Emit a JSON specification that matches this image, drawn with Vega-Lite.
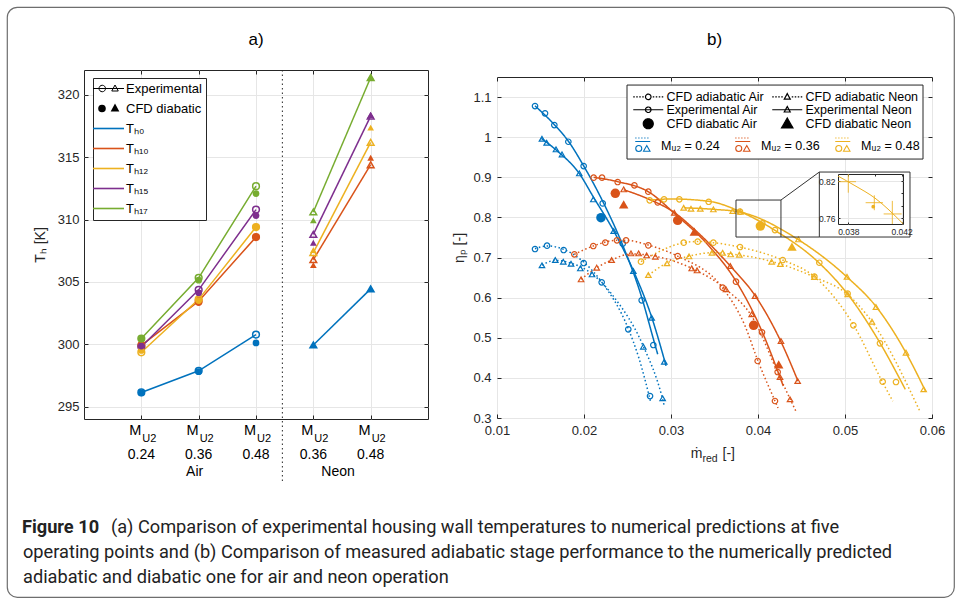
{
"$schema": "https://vega.github.io/schema/vega-lite/v6.json",
"padding": {"left": 6, "top": 6, "right": 0, "bottom": 2},
"background": "white",
"config": {
  "font": "Liberation Sans",
  "view": {"stroke": "#262626", "strokeWidth": 1},
  "axis": {"domain": false, "tickSize": -4, "tickColor": "#262626", "tickWidth": 1, "gridColor": "#e6e6e6", "gridWidth": 1, "labelFont": "Liberation Sans", "labelFontSize": 13, "labelColor": "#262626", "titleFont": "Liberation Sans", "titleFontSize": 14, "titleFontWeight": "normal", "titleColor": "#262626", "labelFlush": false, "labelOverlap": false},
  "axisY": {"labelPadding": 9},
  "axisX": {"labelPadding": 10},
  "legend": {"labelFont": "Liberation Sans", "labelColor": "#000000", "titleFont": "Liberation Sans"},
  "title": {"font": "Liberation Sans", "fontSize": 17, "fontWeight": "normal", "color": "#000000"}
},
"datasets": {
  "aPts": [
    {"pos":1,"T":296.13,"series":"Th0","type":"Experimental","gas":"Air"},
    {"pos":2,"T":297.87,"series":"Th0","type":"Experimental","gas":"Air"},
    {"pos":3,"T":300.77,"series":"Th0","type":"Experimental","gas":"Air"},
    {"pos":1,"T":299.9,"series":"Th10","type":"Experimental","gas":"Air"},
    {"pos":2,"T":303.45,"series":"Th10","type":"Experimental","gas":"Air"},
    {"pos":3,"T":308.6,"series":"Th10","type":"Experimental","gas":"Air"},
    {"pos":1,"T":299.35,"series":"Th12","type":"Experimental","gas":"Air"},
    {"pos":2,"T":303.6,"series":"Th12","type":"Experimental","gas":"Air"},
    {"pos":3,"T":309.4,"series":"Th12","type":"Experimental","gas":"Air"},
    {"pos":1,"T":299.8,"series":"Th15","type":"Experimental","gas":"Air"},
    {"pos":2,"T":304.36,"series":"Th15","type":"Experimental","gas":"Air"},
    {"pos":3,"T":310.8,"series":"Th15","type":"Experimental","gas":"Air"},
    {"pos":1,"T":300.45,"series":"Th17","type":"Experimental","gas":"Air"},
    {"pos":2,"T":305.33,"series":"Th17","type":"Experimental","gas":"Air"},
    {"pos":3,"T":312.68,"series":"Th17","type":"Experimental","gas":"Air"},
    {"pos":4,"T":299.94,"series":"Th0","type":"Experimental","gas":"Neon"},
    {"pos":5,"T":304.44,"series":"Th0","type":"Experimental","gas":"Neon"},
    {"pos":4,"T":306.78,"series":"Th10","type":"Experimental","gas":"Neon"},
    {"pos":5,"T":314.4,"series":"Th10","type":"Experimental","gas":"Neon"},
    {"pos":4,"T":307.35,"series":"Th12","type":"Experimental","gas":"Neon"},
    {"pos":5,"T":316.2,"series":"Th12","type":"Experimental","gas":"Neon"},
    {"pos":4,"T":308.81,"series":"Th15","type":"Experimental","gas":"Neon"},
    {"pos":5,"T":318.3,"series":"Th15","type":"Experimental","gas":"Neon"},
    {"pos":4,"T":310.61,"series":"Th17","type":"Experimental","gas":"Neon"},
    {"pos":5,"T":321.4,"series":"Th17","type":"Experimental","gas":"Neon"},
    {"pos":1,"T":296.1,"series":"Th0","type":"CFD diabatic","gas":"Air"},
    {"pos":2,"T":297.8,"series":"Th0","type":"CFD diabatic","gas":"Air"},
    {"pos":3,"T":300.1,"series":"Th0","type":"CFD diabatic","gas":"Air"},
    {"pos":1,"T":299.96,"series":"Th10","type":"CFD diabatic","gas":"Air"},
    {"pos":2,"T":303.34,"series":"Th10","type":"CFD diabatic","gas":"Air"},
    {"pos":3,"T":308.6,"series":"Th10","type":"CFD diabatic","gas":"Air"},
    {"pos":1,"T":299.5,"series":"Th12","type":"CFD diabatic","gas":"Air"},
    {"pos":2,"T":303.5,"series":"Th12","type":"CFD diabatic","gas":"Air"},
    {"pos":3,"T":309.4,"series":"Th12","type":"CFD diabatic","gas":"Air"},
    {"pos":1,"T":299.85,"series":"Th15","type":"CFD diabatic","gas":"Air"},
    {"pos":2,"T":304.12,"series":"Th15","type":"CFD diabatic","gas":"Air"},
    {"pos":3,"T":310.32,"series":"Th15","type":"CFD diabatic","gas":"Air"},
    {"pos":1,"T":300.4,"series":"Th17","type":"CFD diabatic","gas":"Air"},
    {"pos":2,"T":305.14,"series":"Th17","type":"CFD diabatic","gas":"Air"},
    {"pos":3,"T":312.09,"series":"Th17","type":"CFD diabatic","gas":"Air"},
    {"pos":4,"T":299.94,"series":"Th0","type":"CFD diabatic","gas":"Neon"},
    {"pos":5,"T":304.44,"series":"Th0","type":"CFD diabatic","gas":"Neon"},
    {"pos":4,"T":306.35,"series":"Th10","type":"CFD diabatic","gas":"Neon"},
    {"pos":5,"T":314.96,"series":"Th10","type":"CFD diabatic","gas":"Neon"},
    {"pos":4,"T":307.55,"series":"Th12","type":"CFD diabatic","gas":"Neon"},
    {"pos":5,"T":317.37,"series":"Th12","type":"CFD diabatic","gas":"Neon"},
    {"pos":4,"T":308.14,"series":"Th15","type":"CFD diabatic","gas":"Neon"},
    {"pos":5,"T":318.39,"series":"Th15","type":"CFD diabatic","gas":"Neon"},
    {"pos":4,"T":309.94,"series":"Th17","type":"CFD diabatic","gas":"Neon"},
    {"pos":5,"T":321.42,"series":"Th17","type":"CFD diabatic","gas":"Neon"}
  ],
  "aCats": [
    {"pos":1,"mach":"0.24"},{"pos":2,"mach":"0.36"},{"pos":3,"mach":"0.48"},{"pos":4,"mach":"0.36"},{"pos":5,"mach":"0.48"}
  ],
  "aGroups": [{"pos":2,"gas":"Air"},{"pos":4.5,"gas":"Neon"}],
  "bPts": [
    {"x":0.01437,"y":1.0776,"mach":"0.24","series":"Experimental Air"},
    {"x":0.01552,"y":1.0594,"mach":"0.24","series":"Experimental Air"},
    {"x":0.01659,"y":1.0302,"mach":"0.24","series":"Experimental Air"},
    {"x":0.0182,"y":0.9886,"mach":"0.24","series":"Experimental Air"},
    {"x":0.01996,"y":0.928,"mach":"0.24","series":"Experimental Air"},
    {"x":0.02215,"y":0.835,"mach":"0.24","series":"Experimental Air"},
    {"x":0.02445,"y":0.7344,"mach":"0.24","series":"Experimental Air"},
    {"x":0.02663,"y":0.5933,"mach":"0.24","series":"Experimental Air"},
    {"x":0.02797,"y":0.4819,"mach":"0.24","series":"Experimental Air"},
    {"x":0.01517,"y":0.996,"mach":"0.24","series":"Experimental Neon"},
    {"x":0.01571,"y":0.986,"mach":"0.24","series":"Experimental Neon"},
    {"x":0.01678,"y":0.9696,"mach":"0.24","series":"Experimental Neon"},
    {"x":0.01747,"y":0.957,"mach":"0.24","series":"Experimental Neon"},
    {"x":0.01946,"y":0.9098,"mach":"0.24","series":"Experimental Neon"},
    {"x":0.02107,"y":0.845,"mach":"0.24","series":"Experimental Neon"},
    {"x":0.02341,"y":0.766,"mach":"0.24","series":"Experimental Neon"},
    {"x":0.02567,"y":0.6664,"mach":"0.24","series":"Experimental Neon"},
    {"x":0.02778,"y":0.55,"mach":"0.24","series":"Experimental Neon"},
    {"x":0.02923,"y":0.4403,"mach":"0.24","series":"Experimental Neon"},
    {"x":0.01437,"y":0.7212,"mach":"0.24","series":"CFD adiabatic Air"},
    {"x":0.01575,"y":0.7295,"mach":"0.24","series":"CFD adiabatic Air"},
    {"x":0.01766,"y":0.7187,"mach":"0.24","series":"CFD adiabatic Air"},
    {"x":0.01996,"y":0.6863,"mach":"0.24","series":"CFD adiabatic Air"},
    {"x":0.02203,"y":0.6382,"mach":"0.24","series":"CFD adiabatic Air"},
    {"x":0.02509,"y":0.521,"mach":"0.24","series":"CFD adiabatic Air"},
    {"x":0.02759,"y":0.3548,"mach":"0.24","series":"CFD adiabatic Air"},
    {"x":0.01517,"y":0.6805,"mach":"0.24","series":"CFD adiabatic Neon"},
    {"x":0.0167,"y":0.6938,"mach":"0.24","series":"CFD adiabatic Neon"},
    {"x":0.01762,"y":0.6896,"mach":"0.24","series":"CFD adiabatic Neon"},
    {"x":0.01851,"y":0.6846,"mach":"0.24","series":"CFD adiabatic Neon"},
    {"x":0.01958,"y":0.673,"mach":"0.24","series":"CFD adiabatic Neon"},
    {"x":0.02092,"y":0.658,"mach":"0.24","series":"CFD adiabatic Neon"},
    {"x":0.02682,"y":0.4778,"mach":"0.24","series":"CFD adiabatic Neon"},
    {"x":0.02904,"y":0.349,"mach":"0.24","series":"CFD adiabatic Neon"},
    {"x":0.02195,"y":0.7993,"mach":"0.24","series":"CFD diabatic Air"},
    {"x":0.02111,"y":0.899,"mach":"0.36","series":"Experimental Air"},
    {"x":0.02207,"y":0.899,"mach":"0.36","series":"Experimental Air"},
    {"x":0.02387,"y":0.8882,"mach":"0.36","series":"Experimental Air"},
    {"x":0.02579,"y":0.8799,"mach":"0.36","series":"Experimental Air"},
    {"x":0.02739,"y":0.8641,"mach":"0.36","series":"Experimental Air"},
    {"x":0.02847,"y":0.8375,"mach":"0.36","series":"Experimental Air"},
    {"x":0.03747,"y":0.6398,"mach":"0.36","series":"Experimental Air"},
    {"x":0.04046,"y":0.5135,"mach":"0.36","series":"Experimental Air"},
    {"x":0.04226,"y":0.4146,"mach":"0.36","series":"Experimental Air"},
    {"x":0.02456,"y":0.8699,"mach":"0.36","series":"Experimental Neon"},
    {"x":0.03038,"y":0.8117,"mach":"0.36","series":"Experimental Neon"},
    {"x":0.03682,"y":0.6788,"mach":"0.36","series":"Experimental Neon"},
    {"x":0.03966,"y":0.604,"mach":"0.36","series":"Experimental Neon"},
    {"x":0.04264,"y":0.4919,"mach":"0.36","series":"Experimental Neon"},
    {"x":0.04456,"y":0.3922,"mach":"0.36","series":"Experimental Neon"},
    {"x":0.01889,"y":0.7079,"mach":"0.36","series":"CFD adiabatic Air"},
    {"x":0.02107,"y":0.7287,"mach":"0.36","series":"CFD adiabatic Air"},
    {"x":0.02245,"y":0.737,"mach":"0.36","series":"CFD adiabatic Air"},
    {"x":0.02379,"y":0.7428,"mach":"0.36","series":"CFD adiabatic Air"},
    {"x":0.02483,"y":0.7428,"mach":"0.36","series":"CFD adiabatic Air"},
    {"x":0.02739,"y":0.7303,"mach":"0.36","series":"CFD adiabatic Air"},
    {"x":0.03077,"y":0.7037,"mach":"0.36","series":"CFD adiabatic Air"},
    {"x":0.03594,"y":0.6248,"mach":"0.36","series":"CFD adiabatic Air"},
    {"x":0.03996,"y":0.4421,"mach":"0.36","series":"CFD adiabatic Air"},
    {"x":0.04195,"y":0.3424,"mach":"0.36","series":"CFD adiabatic Air"},
    {"x":0.01966,"y":0.6456,"mach":"0.36","series":"CFD adiabatic Neon"},
    {"x":0.02146,"y":0.6747,"mach":"0.36","series":"CFD adiabatic Neon"},
    {"x":0.02318,"y":0.6938,"mach":"0.36","series":"CFD adiabatic Neon"},
    {"x":0.0254,"y":0.7104,"mach":"0.36","series":"CFD adiabatic Neon"},
    {"x":0.02628,"y":0.7104,"mach":"0.36","series":"CFD adiabatic Neon"},
    {"x":0.0272,"y":0.7054,"mach":"0.36","series":"CFD adiabatic Neon"},
    {"x":0.0282,"y":0.7021,"mach":"0.36","series":"CFD adiabatic Neon"},
    {"x":0.03238,"y":0.673,"mach":"0.36","series":"CFD adiabatic Neon"},
    {"x":0.03299,"y":0.668,"mach":"0.36","series":"CFD adiabatic Neon"},
    {"x":0.03632,"y":0.6207,"mach":"0.36","series":"CFD adiabatic Neon"},
    {"x":0.03927,"y":0.5584,"mach":"0.36","series":"CFD adiabatic Neon"},
    {"x":0.04253,"y":0.4022,"mach":"0.36","series":"CFD adiabatic Neon"},
    {"x":0.04368,"y":0.3465,"mach":"0.36","series":"CFD adiabatic Neon"},
    {"x":0.0236,"y":0.86,"mach":"0.36","series":"CFD diabatic Air"},
    {"x":0.03077,"y":0.7926,"mach":"0.36","series":"CFD diabatic Air"},
    {"x":0.0395,"y":0.531,"mach":"0.36","series":"CFD diabatic Air"},
    {"x":0.02456,"y":0.8325,"mach":"0.36","series":"CFD diabatic Neon"},
    {"x":0.03268,"y":0.7644,"mach":"0.36","series":"CFD diabatic Neon"},
    {"x":0.04238,"y":0.4338,"mach":"0.36","series":"CFD diabatic Neon"},
    {"x":0.02755,"y":0.8425,"mach":"0.48","series":"Experimental Air"},
    {"x":0.0292,"y":0.845,"mach":"0.48","series":"Experimental Air"},
    {"x":0.03096,"y":0.845,"mach":"0.48","series":"Experimental Air"},
    {"x":0.03433,"y":0.839,"mach":"0.48","series":"Experimental Air"},
    {"x":0.03793,"y":0.8144,"mach":"0.48","series":"Experimental Air"},
    {"x":0.0405,"y":0.785,"mach":"0.48","series":"Experimental Air"},
    {"x":0.04195,"y":0.7685,"mach":"0.48","series":"Experimental Air"},
    {"x":0.04705,"y":0.687,"mach":"0.48","series":"Experimental Air"},
    {"x":0.0503,"y":0.61,"mach":"0.48","series":"Experimental Air"},
    {"x":0.05402,"y":0.4861,"mach":"0.48","series":"Experimental Air"},
    {"x":0.05586,"y":0.3897,"mach":"0.48","series":"Experimental Air"},
    {"x":0.03146,"y":0.8242,"mach":"0.48","series":"Experimental Neon"},
    {"x":0.0323,"y":0.8217,"mach":"0.48","series":"Experimental Neon"},
    {"x":0.03337,"y":0.8217,"mach":"0.48","series":"Experimental Neon"},
    {"x":0.03487,"y":0.82,"mach":"0.48","series":"Experimental Neon"},
    {"x":0.03709,"y":0.8159,"mach":"0.48","series":"Experimental Neon"},
    {"x":0.03797,"y":0.8142,"mach":"0.48","series":"Experimental Neon"},
    {"x":0.04464,"y":0.7453,"mach":"0.48","series":"Experimental Neon"},
    {"x":0.05023,"y":0.6522,"mach":"0.48","series":"Experimental Neon"},
    {"x":0.05356,"y":0.5766,"mach":"0.48","series":"Experimental Neon"},
    {"x":0.05701,"y":0.4628,"mach":"0.48","series":"Experimental Neon"},
    {"x":0.05904,"y":0.3715,"mach":"0.48","series":"Experimental Neon"},
    {"x":0.02655,"y":0.6896,"mach":"0.48","series":"CFD adiabatic Air"},
    {"x":0.03146,"y":0.737,"mach":"0.48","series":"CFD adiabatic Air"},
    {"x":0.03307,"y":0.7395,"mach":"0.48","series":"CFD adiabatic Air"},
    {"x":0.03487,"y":0.737,"mach":"0.48","series":"CFD adiabatic Air"},
    {"x":0.03793,"y":0.7262,"mach":"0.48","series":"CFD adiabatic Air"},
    {"x":0.04284,"y":0.6938,"mach":"0.48","series":"CFD adiabatic Air"},
    {"x":0.04648,"y":0.6522,"mach":"0.48","series":"CFD adiabatic Air"},
    {"x":0.05096,"y":0.531,"mach":"0.48","series":"CFD adiabatic Air"},
    {"x":0.05433,"y":0.3905,"mach":"0.48","series":"CFD adiabatic Air"},
    {"x":0.0274,"y":0.6564,"mach":"0.48","series":"CFD adiabatic Neon"},
    {"x":0.02954,"y":0.6855,"mach":"0.48","series":"CFD adiabatic Neon"},
    {"x":0.03207,"y":0.7029,"mach":"0.48","series":"CFD adiabatic Neon"},
    {"x":0.03471,"y":0.712,"mach":"0.48","series":"CFD adiabatic Neon"},
    {"x":0.03594,"y":0.712,"mach":"0.48","series":"CFD adiabatic Neon"},
    {"x":0.03686,"y":0.7079,"mach":"0.48","series":"CFD adiabatic Neon"},
    {"x":0.03785,"y":0.7071,"mach":"0.48","series":"CFD adiabatic Neon"},
    {"x":0.04157,"y":0.6896,"mach":"0.48","series":"CFD adiabatic Neon"},
    {"x":0.04257,"y":0.6838,"mach":"0.48","series":"CFD adiabatic Neon"},
    {"x":0.04648,"y":0.6514,"mach":"0.48","series":"CFD adiabatic Neon"},
    {"x":0.05031,"y":0.6082,"mach":"0.48","series":"CFD adiabatic Neon"},
    {"x":0.0531,"y":0.5401,"mach":"0.48","series":"CFD adiabatic Neon"},
    {"x":0.04027,"y":0.7785,"mach":"0.48","series":"CFD diabatic Air"},
    {"x":0.0439,"y":0.727,"mach":"0.48","series":"CFD diabatic Neon"}
  ],
  "bLines": [
    {"x":0.01437,"y":1.078,"mach":"0.24","series":"Experimental Air"},
    {"x":0.0166,"y":1.031,"mach":"0.24","series":"Experimental Air"},
    {"x":0.0182,"y":0.99,"mach":"0.24","series":"Experimental Air"},
    {"x":0.02,"y":0.927,"mach":"0.24","series":"Experimental Air"},
    {"x":0.0222,"y":0.838,"mach":"0.24","series":"Experimental Air"},
    {"x":0.0245,"y":0.728,"mach":"0.24","series":"Experimental Air"},
    {"x":0.0266,"y":0.603,"mach":"0.24","series":"Experimental Air"},
    {"x":0.028,"y":0.495,"mach":"0.24","series":"Experimental Air"},
    {"x":0.02847,"y":0.459,"mach":"0.24","series":"Experimental Air"},
    {"x":0.0151,"y":0.997,"mach":"0.24","series":"Experimental Neon"},
    {"x":0.0168,"y":0.968,"mach":"0.24","series":"Experimental Neon"},
    {"x":0.0195,"y":0.908,"mach":"0.24","series":"Experimental Neon"},
    {"x":0.0211,"y":0.85,"mach":"0.24","series":"Experimental Neon"},
    {"x":0.0234,"y":0.767,"mach":"0.24","series":"Experimental Neon"},
    {"x":0.0257,"y":0.666,"mach":"0.24","series":"Experimental Neon"},
    {"x":0.0278,"y":0.55,"mach":"0.24","series":"Experimental Neon"},
    {"x":0.02943,"y":0.43,"mach":"0.24","series":"Experimental Neon"},
    {"x":0.01437,"y":0.722,"mach":"0.24","series":"CFD adiabatic Air"},
    {"x":0.0158,"y":0.729,"mach":"0.24","series":"CFD adiabatic Air"},
    {"x":0.0177,"y":0.72,"mach":"0.24","series":"CFD adiabatic Air"},
    {"x":0.02,"y":0.688,"mach":"0.24","series":"CFD adiabatic Air"},
    {"x":0.022,"y":0.64,"mach":"0.24","series":"CFD adiabatic Air"},
    {"x":0.0251,"y":0.522,"mach":"0.24","series":"CFD adiabatic Air"},
    {"x":0.0263,"y":0.45,"mach":"0.24","series":"CFD adiabatic Air"},
    {"x":0.0277,"y":0.337,"mach":"0.24","series":"CFD adiabatic Air"},
    {"x":0.01517,"y":0.681,"mach":"0.24","series":"CFD adiabatic Neon"},
    {"x":0.0167,"y":0.693,"mach":"0.24","series":"CFD adiabatic Neon"},
    {"x":0.0185,"y":0.686,"mach":"0.24","series":"CFD adiabatic Neon"},
    {"x":0.0209,"y":0.66,"mach":"0.24","series":"CFD adiabatic Neon"},
    {"x":0.0235,"y":0.6,"mach":"0.24","series":"CFD adiabatic Neon"},
    {"x":0.0268,"y":0.48,"mach":"0.24","series":"CFD adiabatic Neon"},
    {"x":0.029,"y":0.35,"mach":"0.24","series":"CFD adiabatic Neon"},
    {"x":0.02923,"y":0.33,"mach":"0.24","series":"CFD adiabatic Neon"},
    {"x":0.02111,"y":0.9,"mach":"0.36","series":"Experimental Air"},
    {"x":0.0239,"y":0.889,"mach":"0.36","series":"Experimental Air"},
    {"x":0.0274,"y":0.864,"mach":"0.36","series":"Experimental Air"},
    {"x":0.0306,"y":0.806,"mach":"0.36","series":"Experimental Air"},
    {"x":0.0341,"y":0.735,"mach":"0.36","series":"Experimental Air"},
    {"x":0.0375,"y":0.64,"mach":"0.36","series":"Experimental Air"},
    {"x":0.0405,"y":0.514,"mach":"0.36","series":"Experimental Air"},
    {"x":0.0423,"y":0.415,"mach":"0.36","series":"Experimental Air"},
    {"x":0.0429,"y":0.38,"mach":"0.36","series":"Experimental Air"},
    {"x":0.02456,"y":0.869,"mach":"0.36","series":"Experimental Neon"},
    {"x":0.0275,"y":0.845,"mach":"0.36","series":"Experimental Neon"},
    {"x":0.0304,"y":0.812,"mach":"0.36","series":"Experimental Neon"},
    {"x":0.0327,"y":0.77,"mach":"0.36","series":"Experimental Neon"},
    {"x":0.0368,"y":0.679,"mach":"0.36","series":"Experimental Neon"},
    {"x":0.0397,"y":0.604,"mach":"0.36","series":"Experimental Neon"},
    {"x":0.0426,"y":0.492,"mach":"0.36","series":"Experimental Neon"},
    {"x":0.0446,"y":0.392,"mach":"0.36","series":"Experimental Neon"},
    {"x":0.01889,"y":0.708,"mach":"0.36","series":"CFD adiabatic Air"},
    {"x":0.0211,"y":0.729,"mach":"0.36","series":"CFD adiabatic Air"},
    {"x":0.0238,"y":0.743,"mach":"0.36","series":"CFD adiabatic Air"},
    {"x":0.0248,"y":0.743,"mach":"0.36","series":"CFD adiabatic Air"},
    {"x":0.0274,"y":0.731,"mach":"0.36","series":"CFD adiabatic Air"},
    {"x":0.0308,"y":0.703,"mach":"0.36","series":"CFD adiabatic Air"},
    {"x":0.0359,"y":0.625,"mach":"0.36","series":"CFD adiabatic Air"},
    {"x":0.0385,"y":0.53,"mach":"0.36","series":"CFD adiabatic Air"},
    {"x":0.04,"y":0.442,"mach":"0.36","series":"CFD adiabatic Air"},
    {"x":0.042,"y":0.34,"mach":"0.36","series":"CFD adiabatic Air"},
    {"x":0.0423,"y":0.325,"mach":"0.36","series":"CFD adiabatic Air"},
    {"x":0.01966,"y":0.646,"mach":"0.36","series":"CFD adiabatic Neon"},
    {"x":0.0215,"y":0.675,"mach":"0.36","series":"CFD adiabatic Neon"},
    {"x":0.0232,"y":0.694,"mach":"0.36","series":"CFD adiabatic Neon"},
    {"x":0.0254,"y":0.709,"mach":"0.36","series":"CFD adiabatic Neon"},
    {"x":0.0282,"y":0.703,"mach":"0.36","series":"CFD adiabatic Neon"},
    {"x":0.0324,"y":0.673,"mach":"0.36","series":"CFD adiabatic Neon"},
    {"x":0.0363,"y":0.621,"mach":"0.36","series":"CFD adiabatic Neon"},
    {"x":0.0393,"y":0.553,"mach":"0.36","series":"CFD adiabatic Neon"},
    {"x":0.0425,"y":0.402,"mach":"0.36","series":"CFD adiabatic Neon"},
    {"x":0.0437,"y":0.347,"mach":"0.36","series":"CFD adiabatic Neon"},
    {"x":0.0444,"y":0.315,"mach":"0.36","series":"CFD adiabatic Neon"},
    {"x":0.02755,"y":0.843,"mach":"0.48","series":"Experimental Air"},
    {"x":0.03,"y":0.846,"mach":"0.48","series":"Experimental Air"},
    {"x":0.0344,"y":0.84,"mach":"0.48","series":"Experimental Air"},
    {"x":0.038,"y":0.814,"mach":"0.48","series":"Experimental Air"},
    {"x":0.042,"y":0.767,"mach":"0.48","series":"Experimental Air"},
    {"x":0.047,"y":0.687,"mach":"0.48","series":"Experimental Air"},
    {"x":0.0503,"y":0.609,"mach":"0.48","series":"Experimental Air"},
    {"x":0.054,"y":0.488,"mach":"0.48","series":"Experimental Air"},
    {"x":0.05693,"y":0.3715,"mach":"0.48","series":"Experimental Air"},
    {"x":0.03146,"y":0.824,"mach":"0.48","series":"Experimental Neon"},
    {"x":0.035,"y":0.82,"mach":"0.48","series":"Experimental Neon"},
    {"x":0.038,"y":0.813,"mach":"0.48","series":"Experimental Neon"},
    {"x":0.0446,"y":0.745,"mach":"0.48","series":"Experimental Neon"},
    {"x":0.0502,"y":0.652,"mach":"0.48","series":"Experimental Neon"},
    {"x":0.0536,"y":0.577,"mach":"0.48","series":"Experimental Neon"},
    {"x":0.057,"y":0.463,"mach":"0.48","series":"Experimental Neon"},
    {"x":0.0593,"y":0.365,"mach":"0.48","series":"Experimental Neon"},
    {"x":0.02655,"y":0.69,"mach":"0.48","series":"CFD adiabatic Air"},
    {"x":0.0315,"y":0.737,"mach":"0.48","series":"CFD adiabatic Air"},
    {"x":0.0331,"y":0.74,"mach":"0.48","series":"CFD adiabatic Air"},
    {"x":0.0349,"y":0.737,"mach":"0.48","series":"CFD adiabatic Air"},
    {"x":0.0379,"y":0.726,"mach":"0.48","series":"CFD adiabatic Air"},
    {"x":0.0428,"y":0.694,"mach":"0.48","series":"CFD adiabatic Air"},
    {"x":0.0465,"y":0.652,"mach":"0.48","series":"CFD adiabatic Air"},
    {"x":0.051,"y":0.531,"mach":"0.48","series":"CFD adiabatic Air"},
    {"x":0.0543,"y":0.39,"mach":"0.48","series":"CFD adiabatic Air"},
    {"x":0.0555,"y":0.342,"mach":"0.48","series":"CFD adiabatic Air"},
    {"x":0.0274,"y":0.656,"mach":"0.48","series":"CFD adiabatic Neon"},
    {"x":0.0295,"y":0.686,"mach":"0.48","series":"CFD adiabatic Neon"},
    {"x":0.032,"y":0.703,"mach":"0.48","series":"CFD adiabatic Neon"},
    {"x":0.0347,"y":0.712,"mach":"0.48","series":"CFD adiabatic Neon"},
    {"x":0.0368,"y":0.709,"mach":"0.48","series":"CFD adiabatic Neon"},
    {"x":0.0416,"y":0.69,"mach":"0.48","series":"CFD adiabatic Neon"},
    {"x":0.0465,"y":0.651,"mach":"0.48","series":"CFD adiabatic Neon"},
    {"x":0.0503,"y":0.608,"mach":"0.48","series":"CFD adiabatic Neon"},
    {"x":0.0531,"y":0.54,"mach":"0.48","series":"CFD adiabatic Neon"},
    {"x":0.0586,"y":0.317,"mach":"0.48","series":"CFD adiabatic Neon"}
  ],
  "inset": [
    {"x":0.038,"y":0.8189,"xlo":0.03725,"xhi":0.03858,"ylo":0.8012,"yhi":0.8308},
    {"x":0.03995,"y":0.7851,"xlo":0.0393,"xhi":0.0406,"ylo":0.773,"yhi":0.797},
    {"x":0.0413,"y":0.767,"xlo":0.04065,"xhi":0.042,"ylo":0.7508,"yhi":0.788}
  ],
  "insetLine": [
    {"x":0.03723,"y":0.828},{"x":0.0385,"y":0.8125},{"x":0.04,"y":0.7925},{"x":0.0421,"y":0.7513}
  ],
  "insetDot": [{"x":0.03987,"y":0.7787}],
  "caption": [
    {"line":1,"seg":"bold","text":"Figure 10"},
    {"line":1,"seg":"first","text":"(a) Comparison of experimental housing wall temperatures to numerical predictions at five"},
    {"line":2,"seg":"rest","text":"operating points and (b) Comparison of measured adiabatic stage performance to the numerically predicted"},
    {"line":3,"seg":"rest","text":"adiabatic and diabatic one for air and neon operation"}
  ]
},
"spacing": -870,
"bounds": "flush",
"align": "none",
"resolve": {"scale": {"color": "independent", "shape": "independent", "fill": "independent", "strokeDash": "independent"}},
"hconcat": [
  {
    "width": 947, "height": 590,
    "view": {"stroke": "#6e6e6e", "strokeWidth": 1.2, "cornerRadius": 10},
    "data": {"name": "caption"},
    "layer": [
      {"transform": [{"filter": "datum.seg === 'bold'"}],
       "mark": {"type": "text", "align": "left", "baseline": "middle", "dx": 15, "fontWeight": "bold", "font": "Roboto", "fontSize": 18.2, "color": "#222222"},
       "encoding": {"x": {"datum": 0, "type": "quantitative", "scale": {"domain": [0, 1]}, "axis": null},
                    "y": {"field": "line", "type": "ordinal", "scale": {"type": "point", "domain": [1, 2, 3], "range": [521, 571], "padding": 0}, "axis": null},
                    "text": {"field": "text"}}},
      {"transform": [{"filter": "datum.seg === 'first'"}],
       "mark": {"type": "text", "align": "left", "baseline": "middle", "dx": 104, "font": "Roboto", "fontSize": 18.2, "color": "#222222"},
       "encoding": {"x": {"datum": 0, "type": "quantitative", "scale": {"domain": [0, 1]}, "axis": null},
                    "y": {"field": "line", "type": "ordinal", "scale": {"type": "point", "domain": [1, 2, 3], "range": [521, 571], "padding": 0}, "axis": null},
                    "text": {"field": "text"}}},
      {"transform": [{"filter": "datum.seg === 'rest'"}],
       "mark": {"type": "text", "align": "left", "baseline": "middle", "dx": 16, "font": "Roboto", "fontSize": 18.2, "color": "#222222"},
       "encoding": {"x": {"datum": 0, "type": "quantitative", "scale": {"domain": [0, 1]}, "axis": null},
                    "y": {"field": "line", "type": "ordinal", "scale": {"type": "point", "domain": [1, 2, 3], "range": [521, 571], "padding": 0}, "axis": null},
                    "text": {"field": "text"}}}
    ]
  },
  {
    "spacing": 0,
    "bounds": "flush",
    "align": "none",
    "resolve": {"scale": {"color": "independent", "shape": "independent", "fill": "independent", "strokeDash": "independent"}},
    "vconcat": [
      {"width": 1, "height": 63, "data": {"values": [{}]}, "mark": {"type": "point", "opacity": 0}, "view": {"stroke": null}},
      {
        "spacing": 69,
        "bounds": "flush",
        "align": "none",
        "resolve": {"scale": {"color": "independent", "shape": "independent", "fill": "independent", "strokeDash": "independent"}},
        "hconcat": [
          {
            "width": 344, "height": 349,
            "title": {"text": "a)", "offset": 21},
            "layer": [
              {"layer": [
                {"data": {"name": "aPts"}, "transform": [{"filter": "datum.type === 'Experimental'"}],
                 "mark": {"type": "line", "strokeWidth": 1.5},
                 "encoding": {
                   "x": {"field": "pos", "type": "quantitative", "scale": {"domain": [0, 6], "nice": false, "padding": 0}, "axis": {"values": [1, 2, 3, 4, 5], "labels": false, "title": null}},
                   "y": {"field": "T", "type": "quantitative", "scale": {"domain": [294, 322], "nice": false, "zero": false, "padding": 0}, "axis": {"values": [295, 300, 305, 310, 315, 320], "title": "Tₕ [K]", "titlePadding": 10}},
                   "color": {"field": "series", "type": "nominal",
                     "scale": {"domain": ["Experimental", "CFD diabatic", "Th0", "Th10", "Th12", "Th15", "Th17"], "range": ["#000000", "#000000", "#0072BD", "#D95319", "#EDB120", "#7E2F8E", "#77AC30"]},
                     "legend": {"orient": "none", "legendX": 9, "legendY": 8, "title": null, "padding": 4, "strokeColor": "#262626", "fillColor": "#ffffff",
                       "symbolSize": 100, "symbolOffset": 5, "labelOffset": 11, "rowPadding": 6, "labelFontSize": 13,
                       "labelExpr": "datum.value === 'Th0' ? 'Tₕ₀' : datum.value === 'Th10' ? 'Tₕ₁₀' : datum.value === 'Th12' ? 'Tₕ₁₂' : datum.value === 'Th15' ? 'Tₕ₁₅' : datum.value === 'Th17' ? 'Tₕ₁₇' : datum.label",
                       "encode": {"symbols": {"update": {
                         "shape": {"signal": "datum.value === 'Experimental' ? 'M-3.1,0L3.1,0M-0.6,0A0.65,0.65,0,1,1,-1.9,0A0.65,0.65,0,1,1,-0.6,0M1.3,-0.7L1.95,0.5L0.65,0.5Z' : datum.value === 'CFD diabatic' ? 'M-0.7,0A0.6,0.6,0,1,1,-1.9,0A0.6,0.6,0,1,1,-0.7,0ZM1.3,-0.65L1.9,0.45L0.7,0.45Z' : 'M-3.1,0L3.1,0'"},
                         "fill": {"signal": "datum.value === 'CFD diabatic' ? '#000000' : 'transparent'"},
                         "strokeWidth": {"signal": "datum.value === 'Experimental' ? 1 : 1.6"},
                         "size": {"value": 100},
                         "opacity": {"value": 1}}}}}},
                   "detail": {"field": "gas"}}},
                {"data": {"name": "aPts"}, "transform": [{"filter": "datum.type === 'Experimental'"}],
                 "mark": {"type": "point", "filled": false, "strokeWidth": 1.5, "size": 45, "opacity": 1},
                 "encoding": {
                   "x": {"field": "pos", "type": "quantitative"},
                   "y": {"field": "T", "type": "quantitative"},
                   "color": {"field": "series", "type": "nominal",
                     "legend": {"orient": "none", "legendX": 9, "legendY": 8, "title": null, "padding": 4, "strokeColor": "#262626", "fillColor": "#ffffff",
                       "symbolSize": 100, "symbolOffset": 5, "labelOffset": 11, "rowPadding": 6, "labelFontSize": 13,
                       "labelExpr": "datum.value === 'Th0' ? 'Tₕ₀' : datum.value === 'Th10' ? 'Tₕ₁₀' : datum.value === 'Th12' ? 'Tₕ₁₂' : datum.value === 'Th15' ? 'Tₕ₁₅' : datum.value === 'Th17' ? 'Tₕ₁₇' : datum.label",
                       "encode": {"symbols": {"update": {
                         "shape": {"signal": "datum.value === 'Experimental' ? 'M-3.1,0L3.1,0M-0.6,0A0.65,0.65,0,1,1,-1.9,0A0.65,0.65,0,1,1,-0.6,0M1.3,-0.7L1.95,0.5L0.65,0.5Z' : datum.value === 'CFD diabatic' ? 'M-0.7,0A0.6,0.6,0,1,1,-1.9,0A0.6,0.6,0,1,1,-0.7,0ZM1.3,-0.65L1.9,0.45L0.7,0.45Z' : 'M-3.1,0L3.1,0'"},
                         "fill": {"signal": "datum.value === 'CFD diabatic' ? '#000000' : 'transparent'"},
                         "strokeWidth": {"signal": "datum.value === 'Experimental' ? 1 : 1.6"},
                         "size": {"value": 100},
                         "opacity": {"value": 1}}}}}},
                   "shape": {"field": "gas", "type": "nominal", "scale": {"domain": ["Air", "Neon"], "range": ["circle", "triangle-up"]}, "legend": null}}},
                {"data": {"name": "aPts"}, "transform": [{"filter": "datum.type === 'CFD diabatic'"}],
                 "mark": {"type": "point", "filled": true, "size": 45, "opacity": 1},
                 "encoding": {
                   "x": {"field": "pos", "type": "quantitative"},
                   "y": {"field": "T", "type": "quantitative"},
                   "fill": {"field": "series", "type": "nominal", "scale": {"domain": ["Th17", "Th15", "Th12", "Th10", "Th0"], "range": ["#77AC30", "#7E2F8E", "#EDB120", "#D95319", "#0072BD"]}, "legend": null},
                   "shape": {"field": "gas", "type": "nominal", "legend": null}}},
                {"data": {"values": [{}]},
                 "mark": {"type": "rule", "strokeDash": [1.5, 3], "color": "#262626", "strokeWidth": 1},
                 "encoding": {"x": {"datum": 3.46, "type": "quantitative"}, "y": {"datum": 322, "type": "quantitative"}, "y2": {"datum": 289}}},
                {"data": {"name": "aCats"},
                 "mark": {"type": "text", "text": "M", "align": "right", "baseline": "alphabetic", "dy": 16, "fontSize": 14.5, "color": "#000000"},
                 "encoding": {"x": {"field": "pos", "type": "quantitative"}, "y": {"datum": 294, "type": "quantitative"}}},
                {"data": {"name": "aCats"},
                 "mark": {"type": "text", "text": "U2", "align": "left", "baseline": "alphabetic", "dx": 1, "dy": 23, "fontSize": 11, "color": "#000000"},
                 "encoding": {"x": {"field": "pos", "type": "quantitative"}, "y": {"datum": 294, "type": "quantitative"}}},
                {"data": {"name": "aCats"},
                 "mark": {"type": "text", "align": "center", "baseline": "alphabetic", "dy": 40, "fontSize": 14, "color": "#000000"},
                 "encoding": {"x": {"field": "pos", "type": "quantitative"}, "y": {"datum": 294, "type": "quantitative"}, "text": {"field": "mach"}}},
                {"data": {"name": "aGroups"},
                 "mark": {"type": "text", "align": "center", "baseline": "alphabetic", "dx": -4, "dy": 57, "fontSize": 14, "color": "#000000"},
                 "encoding": {"x": {"field": "pos", "type": "quantitative"}, "y": {"datum": 294, "type": "quantitative"}, "text": {"field": "gas"}}}
              ]},
              {"data": {"values": [{}]}, "mark": {"type": "point", "opacity": 0},
               "encoding": {
                 "x": {"datum": 1, "type": "quantitative", "axis": {"orient": "top", "labels": false, "grid": false, "values": [1, 2, 3, 4, 5], "title": null}},
                 "y": {"datum": 300, "type": "quantitative", "axis": {"orient": "right", "labels": false, "grid": false, "values": [295, 300, 305, 310, 315, 320], "title": null}}}}
            ],
            "resolve": {"axis": {"x": "independent", "y": "independent"}}
          },
          {
            "spacing": 341,
            "bounds": "flush",
            "align": "none",
            "hconcat": [
              {
                "spacing": 0,
                "bounds": "flush",
                "align": "none",
                "vconcat": [
                  {"width": 1, "height": 7, "data": {"values": [{}]}, "mark": {"type": "point", "opacity": 0}, "view": {"stroke": null}},
                  {
                    "width": 435, "height": 341,
                    "title": {"text": "b)", "offset": 28},
                    "layer": [
                      {"layer": [
                        {"data": {"name": "bLines"}, "transform": [{"filter": "indexof(datum.series, 'Experimental') >= 0"}],
                         "mark": {"type": "line", "strokeWidth": 1.5, "interpolate": "monotone"},
                         "encoding": {
                           "x": {"field": "x", "type": "quantitative", "scale": {"domain": [0.01, 0.06], "nice": false, "zero": false, "padding": 0}, "axis": {"values": [0.01, 0.02, 0.03, 0.04, 0.05, 0.06], "format": "~g", "title": null, "labelPadding": 10}},
                           "y": {"field": "y", "type": "quantitative", "scale": {"domain": [0.3, 1.15], "nice": false, "zero": false, "padding": 0}, "axis": {"values": [0.3, 0.4, 0.5, 0.6, 0.7, 0.8, 0.9, 1, 1.1], "format": "~g", "title": "ηₚ [-]", "labelPadding": 10, "titlePadding": 6}},
                           "color": {"field": "mach", "type": "nominal", "scale": {"domain": ["0.24", "0.36", "0.48"], "range": ["#0072BD", "#D95319", "#EDB120"]},
                             "legend": {"orient": "none", "legendX": 138, "legendY": 69, "title": null, "columns": 3, "padding": 0, "symbolSize": 100, "symbolOffset": 1.5, "labelOffset": 12, "columnPadding": 13, "labelFontSize": 12.5, "zindex": 2,
                               "labelExpr": "'Mᵤ₂ = ' + datum.label",
                               "encode": {"symbols": {"update": {
                                 "shape": {"value": "M-1.5,-1.5h0.25M-0.9,-1.5h0.25M-0.3,-1.5h0.25M0.3,-1.5h0.25M0.9,-1.5h0.25M-1.5,-0.8L1.5,-0.8M-0.2,0.6A0.6,0.6,0,1,1,-1.4,0.6A0.6,0.6,0,1,1,-0.2,0.6M0.8,0L1.45,1.15L0.15,1.15Z"},
                                 "fill": {"value": "transparent"},
                                 "strokeWidth": {"value": 1.1},
                                 "size": {"value": 100},
                                 "opacity": {"value": 1}}}}}},
                           "strokeDash": {"field": "series", "type": "nominal",
                             "scale": {"domain": ["CFD adiabatic Air", "Experimental Air", "CFD diabatic Air", "CFD adiabatic Neon", "Experimental Neon", "CFD diabatic Neon"], "range": [[1, 0], [1, 0], [1, 0], [1, 0], [1, 0], [1, 0]]},
                             "legend": {"orient": "none", "legendX": 135, "legendY": 20.5, "title": null, "columns": 2, "padding": 0, "symbolSize": 100, "symbolOffset": 10, "labelOffset": 12, "columnPadding": 4, "rowPadding": -1, "labelFontSize": 12.5, "zindex": 1,
                               "encode": {"symbols": {"update": {
                                 "shape": {"signal": "datum.value === 'CFD adiabatic Air' ? 'M-3,0h0.3M-2.4,0h0.3M-1.8,0h0.3M-1.2,0h0.3M0.9,0h0.3M1.5,0h0.3M2.1,0h0.3M2.7,0h0.3M0.55,0A0.55,0.55,0,1,1,-0.55,0A0.55,0.55,0,1,1,0.55,0' : datum.value === 'CFD adiabatic Neon' ? 'M-3,0h0.3M-2.4,0h0.3M-1.8,0h0.3M-1.2,0h0.3M0.9,0h0.3M1.5,0h0.3M2.1,0h0.3M2.7,0h0.3M0,-0.65L0.6,0.45L-0.6,0.45Z' : datum.value === 'Experimental Air' ? 'M-3,0L3,0M0.55,0A0.55,0.55,0,1,1,-0.55,0A0.55,0.55,0,1,1,0.55,0' : datum.value === 'Experimental Neon' ? 'M-3,0L3,0M0,-0.65L0.6,0.45L-0.6,0.45Z' : datum.value === 'CFD diabatic Air' ? 'M1,0A1,1,0,1,1,-1,0A1,1,0,1,1,1,0Z' : 'M0,-1.15L1.15,0.85L-1.15,0.85Z'"},
                                 "fill": {"signal": "indexof(datum.value, 'CFD diabatic') >= 0 ? '#000000' : 'transparent'"},
                                 "stroke": {"value": "#000000"},
                                 "strokeWidth": {"value": 1.2},
                                 "size": {"value": 100},
                                 "opacity": {"value": 1}}}}}},
                           "detail": {"field": "series"}}},
                        {"data": {"name": "bLines"}, "transform": [{"filter": "indexof(datum.series, 'CFD') >= 0"}],
                         "mark": {"type": "line", "strokeWidth": 1.5, "strokeDash": [1.5, 2.5], "interpolate": "monotone"},
                         "encoding": {
                           "x": {"field": "x", "type": "quantitative"},
                           "y": {"field": "y", "type": "quantitative"},
                           "color": {"field": "mach", "type": "nominal",
                             "legend": {"orient": "none", "legendX": 138, "legendY": 69, "title": null, "columns": 3, "padding": 0, "symbolSize": 100, "symbolOffset": 1.5, "labelOffset": 12, "columnPadding": 13, "labelFontSize": 12.5, "zindex": 2,
                               "labelExpr": "'Mᵤ₂ = ' + datum.label",
                               "encode": {"symbols": {"update": {
                                 "shape": {"value": "M-1.5,-1.5h0.25M-0.9,-1.5h0.25M-0.3,-1.5h0.25M0.3,-1.5h0.25M0.9,-1.5h0.25M-1.5,-0.8L1.5,-0.8M-0.2,0.6A0.6,0.6,0,1,1,-1.4,0.6A0.6,0.6,0,1,1,-0.2,0.6M0.8,0L1.45,1.15L0.15,1.15Z"},
                                 "fill": {"value": "transparent"},
                                 "strokeWidth": {"value": 1.1},
                                 "size": {"value": 100},
                                 "opacity": {"value": 1}}}}}},
                           "detail": {"field": "series"}}},
                        {"data": {"name": "bPts"}, "transform": [{"filter": "indexof(datum.series, 'CFD diabatic') < 0"}],
                         "mark": {"type": "point", "filled": false, "strokeWidth": 1.2, "size": 30, "opacity": 1},
                         "encoding": {
                           "x": {"field": "x", "type": "quantitative"},
                           "y": {"field": "y", "type": "quantitative"},
                           "color": {"field": "mach", "type": "nominal",
                             "legend": {"orient": "none", "legendX": 138, "legendY": 69, "title": null, "columns": 3, "padding": 0, "symbolSize": 100, "symbolOffset": 1.5, "labelOffset": 12, "columnPadding": 13, "labelFontSize": 12.5, "zindex": 2,
                               "labelExpr": "'Mᵤ₂ = ' + datum.label",
                               "encode": {"symbols": {"update": {
                                 "shape": {"value": "M-1.5,-1.5h0.25M-0.9,-1.5h0.25M-0.3,-1.5h0.25M0.3,-1.5h0.25M0.9,-1.5h0.25M-1.5,-0.8L1.5,-0.8M-0.2,0.6A0.6,0.6,0,1,1,-1.4,0.6A0.6,0.6,0,1,1,-0.2,0.6M0.8,0L1.45,1.15L0.15,1.15Z"},
                                 "fill": {"value": "transparent"},
                                 "strokeWidth": {"value": 1.1},
                                 "size": {"value": 100},
                                 "opacity": {"value": 1}}}}}},
                           "shape": {"field": "series", "type": "nominal",
                             "scale": {"domain": ["Experimental Neon", "CFD adiabatic Neon", "CFD diabatic Neon", "Experimental Air", "CFD adiabatic Air", "CFD diabatic Air"], "range": ["triangle-up", "triangle-up", "triangle-up", "circle", "circle", "circle"]},
                             "legend": null}}},
                        {"data": {"name": "bPts"}, "transform": [{"filter": "indexof(datum.series, 'CFD diabatic') >= 0"}],
                         "mark": {"type": "point", "filled": true, "size": 90, "opacity": 1},
                         "encoding": {
                           "x": {"field": "x", "type": "quantitative"},
                           "y": {"field": "y", "type": "quantitative"},
                           "fill": {"field": "mach", "type": "nominal", "scale": {"domain": ["0.48", "0.36", "0.24"], "range": ["#EDB120", "#D95319", "#0072BD"]}, "legend": null},
                           "shape": {"field": "series", "type": "nominal", "legend": null}}},
                        {"data": {"values": [{}]},
                         "mark": {"type": "rect", "fill": null, "stroke": "#333333", "strokeWidth": 1},
                         "encoding": {"x": {"datum": 0.03747, "type": "quantitative"}, "x2": {"datum": 0.04264}, "y": {"datum": 0.8433, "type": "quantitative"}, "y2": {"datum": 0.7511}}},
                        {"data": {"values": [{}]},
                         "mark": {"type": "rule", "color": "#333333", "strokeWidth": 1},
                         "encoding": {"x": {"datum": 0.04264, "type": "quantitative"}, "x2": {"datum": 0.04705}, "y": {"datum": 0.8433, "type": "quantitative"}, "y2": {"datum": 0.9131}}},
                        {"data": {"values": [{}]},
                         "mark": {"type": "rule", "color": "#333333", "strokeWidth": 1},
                         "encoding": {"x": {"datum": 0.04264, "type": "quantitative"}, "x2": {"datum": 0.04705}, "y": {"datum": 0.7511, "type": "quantitative"}}},
                        {"data": {"values": [{}]},
                         "mark": {"type": "rect", "fill": "#ffffff", "stroke": "#333333", "strokeWidth": 1},
                         "encoding": {"x": {"datum": 0.04705, "type": "quantitative"}, "x2": {"datum": 0.05747}, "y": {"datum": 0.9131, "type": "quantitative"}, "y2": {"datum": 0.7511}}},
                        {"data": {"values": [{}]},
                         "mark": {"type": "rect", "fill": "#ffffff", "stroke": "#262626", "strokeWidth": 1},
                         "encoding": {"x": {"datum": 0.024943, "type": "quantitative"}, "x2": {"datum": 0.058966}, "y": {"datum": 1.12991, "type": "quantitative"}, "y2": {"datum": 0.94548}}},
                        {"data": {"values": [{}]},
                         "mark": {"type": "text", "text": "ṁ", "align": "right", "baseline": "alphabetic", "dx": -12, "dy": 40, "fontSize": 14, "color": "#262626"},
                         "encoding": {"x": {"datum": 0.035, "type": "quantitative"}, "y": {"datum": 0.3, "type": "quantitative"}}},
                        {"data": {"values": [{}]},
                         "mark": {"type": "text", "text": "red", "align": "left", "baseline": "alphabetic", "dx": -12, "dy": 44, "fontSize": 10.5, "color": "#262626"},
                         "encoding": {"x": {"datum": 0.035, "type": "quantitative"}, "y": {"datum": 0.3, "type": "quantitative"}}},
                        {"data": {"values": [{}]},
                         "mark": {"type": "text", "text": "[-]", "align": "left", "baseline": "alphabetic", "dx": 8, "dy": 40, "fontSize": 14, "color": "#262626"},
                         "encoding": {"x": {"datum": 0.035, "type": "quantitative"}, "y": {"datum": 0.3, "type": "quantitative"}}}
                      ]},
                      {"data": {"values": [{}]}, "mark": {"type": "point", "opacity": 0},
                       "encoding": {
                         "x": {"datum": 0.03, "type": "quantitative", "axis": {"orient": "top", "labels": false, "grid": false, "values": [0.01, 0.02, 0.03, 0.04, 0.05, 0.06], "title": null}},
                         "y": {"datum": 0.5, "type": "quantitative", "axis": {"orient": "right", "labels": false, "grid": false, "values": [0.3, 0.4, 0.5, 0.6, 0.7, 0.8, 0.9, 1, 1.1], "title": null}}}}
                    ],
                    "resolve": {"axis": {"x": "independent", "y": "independent"}}
                  }
                ]
              },
              {
                "spacing": 0,
                "bounds": "flush",
                "align": "none",
                "vconcat": [
                  {"width": 1, "height": 104, "data": {"values": [{}]}, "mark": {"type": "point", "opacity": 0}, "view": {"stroke": null}},
                  {
                    "width": 65, "height": 50,
                    "layer": [
                      {"layer": [
                        {"data": {"name": "insetLine"},
                         "mark": {"type": "line", "color": "#EDB120", "strokeWidth": 1, "interpolate": "monotone", "clip": true},
                         "encoding": {
                           "x": {"field": "x", "type": "quantitative", "scale": {"domain": [0.03723, 0.0421], "nice": false, "zero": false, "padding": 0}, "axis": {"values": [0.038, 0.04, 0.042], "format": "~g", "title": null, "labelFontSize": 8.5, "tickSize": -2, "labelPadding": 5, "labelOverlap": false, "labelFlush": false, "labelSeparation": 0, "labelBound": false}},
                           "y": {"field": "y", "type": "quantitative", "scale": {"domain": [0.7508, 0.8313], "nice": false, "zero": false, "padding": 0}, "axis": {"values": [0.76, 0.78, 0.8, 0.82], "format": "~g", "title": null, "labelFontSize": 8.5, "tickSize": -2, "labelPadding": 5, "labelOverlap": false, "labelFlush": false, "labelSeparation": 0, "labelBound": false}}}},
                        {"data": {"name": "inset"},
                         "mark": {"type": "rule", "color": "#EDB120", "strokeWidth": 1, "opacity": 0.85, "clip": true},
                         "encoding": {"x": {"field": "xlo", "type": "quantitative"}, "x2": {"field": "xhi"}, "y": {"field": "y", "type": "quantitative"}}},
                        {"data": {"name": "inset"},
                         "mark": {"type": "rule", "color": "#EDB120", "strokeWidth": 1, "opacity": 0.85, "clip": true},
                         "encoding": {"x": {"field": "x", "type": "quantitative"}, "y": {"field": "ylo", "type": "quantitative"}, "y2": {"field": "yhi"}}},
                        {"data": {"name": "insetDot"},
                         "mark": {"type": "point", "filled": true, "color": "#EDB120", "size": 14, "opacity": 1},
                         "encoding": {"x": {"field": "x", "type": "quantitative"}, "y": {"field": "y", "type": "quantitative"}}}
                      ]},
                      {"data": {"values": [{}]}, "mark": {"type": "point", "opacity": 0},
                       "encoding": {
                         "x": {"datum": 0.04, "type": "quantitative", "axis": {"orient": "top", "labels": false, "grid": false, "values": [0.038, 0.04, 0.042], "title": null, "tickSize": -2}},
                         "y": {"datum": 0.8, "type": "quantitative", "axis": {"orient": "right", "labels": false, "grid": false, "values": [0.76, 0.78, 0.8, 0.82], "title": null, "tickSize": -2}}}}
                    ],
                    "resolve": {"axis": {"x": "independent", "y": "independent"}}
                  }
                ]
              }
            ]
          }
        ]
      }
    ]
  }
]
}
